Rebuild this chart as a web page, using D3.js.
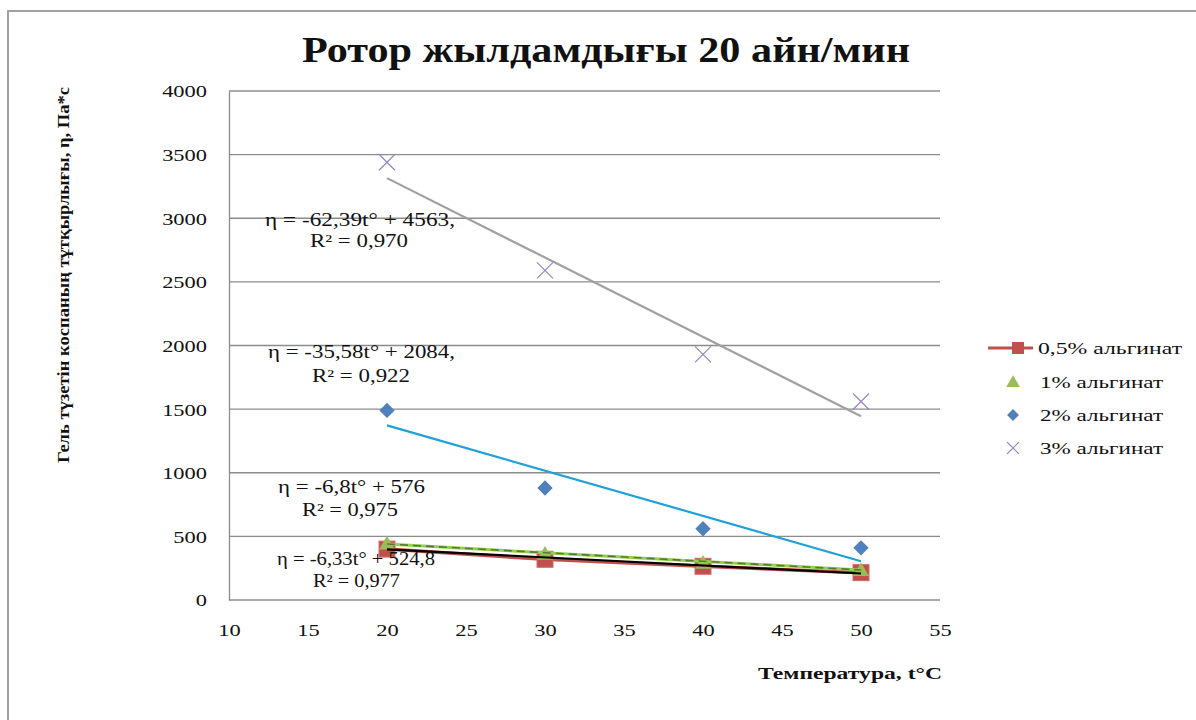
<!DOCTYPE html>
<html>
<head>
<meta charset="utf-8">
<script src="https://cdn.jsdelivr.net/npm/d3@7"></script>
<style>
  html, body { margin: 0; padding: 0; background: #fff; }
  svg { display: block; }
  text { font-family: "Liberation Serif", "Times New Roman", serif; fill: #111; }
</style>
</head>
<body>
<svg id="chart" width="1196" height="720"></svg>
<script>
// Temperature points, °C
const temps = [20, 30, 40, 50];

// Viscosity readings, Pa*s, per alginate concentration
const series05 = [400, 320, 265, 215];
const series1 = [440, 360, 290, 232];
const series2 = [1490, 880, 560, 410];
const series3 = [3440, 2590, 1930, 1560];

const seriesNames = ["0,5% альгинат", "1% альгинат", "2% альгинат", "3% альгинат"];

// Linear trend coefficients (slope, intercept) and R²
const slopes = [-6.33, -6.8, -35.58, -62.39];
const intercepts = [524.8, 576, 2084, 4563];
const rSquared = ["0,977", "0,975", "0,922", "0,970"];

const xTicks = [10, 15, 20, 25, 30, 35, 40, 45, 50, 55];
const yTicks = [0, 500, 1000, 1500, 2000, 2500, 3000, 3500, 4000];

const titleText = "Ротор жылдамдығы 20 айн/мин";
const yTitle = "Гель түзетін коспаның тұтқырлығы, η, Па*с";
const xTitle = "Температура, t°C";

const svg = d3.select("#chart");

// outer frame (open on the right/bottom)
svg.append("path")
  .attr("d", "M8,720 L8,11 L1196,11")
  .attr("fill", "none").attr("stroke", "#a0a0a0").attr("stroke-width", 2);

const x = d3.scaleLinear().domain([10, 55]).range([229, 940]);
const y = d3.scaleLinear().domain([0, 4000]).range([600, 91]);

// horizontal gridlines
svg.append("g").selectAll("line").data(yTicks).join("line")
  .attr("x1", x(10)).attr("x2", x(55))
  .attr("y1", d => y(d)).attr("y2", d => y(d))
  .attr("stroke", "#8c8c8c").attr("stroke-width", 1.3);

const SX = 1.32;

// y axis
const yAxis = svg.append("g").attr("transform", `translate(${x(10)},0)`)
  .call(d3.axisLeft(y).tickValues(yTicks).tickFormat(d3.format("d")).tickSize(0));
yAxis.attr("font-family", "Liberation Serif, serif").attr("font-size", 17);
yAxis.select(".domain").attr("stroke", "#8c8c8c").attr("stroke-width", 1.3);
yAxis.selectAll("text")
  .attr("fill", "#111")
  .attr("dy", "0.35em")
  .attr("x", -22 / SX)
  .attr("transform", `scale(${SX},1)`);

// x axis
const xAxis = svg.append("g").attr("transform", `translate(0,${y(0)})`)
  .call(d3.axisBottom(x).tickValues(xTicks).tickFormat(d3.format("d")).tickSize(0).tickPadding(24));
xAxis.attr("font-family", "Liberation Serif, serif").attr("font-size", 17);
xAxis.select(".domain").remove();
xAxis.selectAll("text")
  .attr("fill", "#111")
  .attr("transform", `scale(${SX},1)`);

// helper for horizontally fitted text
function fitText(g, str, px, py, width, size, opts = {}) {
  return g.append("text")
    .attr("x", px).attr("y", py)
    .attr("font-size", size)
    .attr("font-weight", opts.bold ? "bold" : "normal")
    .attr("text-anchor", opts.anchor || "start")
    .attr("textLength", width)
    .attr("lengthAdjust", "spacingAndGlyphs")
    .attr("transform", opts.transform || null)
    .text(str);
}

// title
fitText(svg, titleText, 302, 62, 608, 36, { bold: true });

// axis titles
fitText(svg, yTitle, -463, 69, 376, 17, { bold: true, transform: "rotate(-90)" });
fitText(svg, xTitle, 758, 679, 184, 17, { bold: true });

// trend lines
const trendLine = (i) => d3.line()
  .x(d => x(d))
  .y(d => y(slopes[i] * d + intercepts[i]))([20, 50]);

const plot = svg.append("g");

// 3% trend
plot.append("path").attr("d", trendLine(3))
  .attr("stroke", "#a0a0a0").attr("stroke-width", 2.2).attr("fill", "none");
// 2% trend
plot.append("path").attr("d", trendLine(2))
  .attr("stroke", "#1ea1d8").attr("stroke-width", 2.2).attr("fill", "none");

// 0.5% connecting line
plot.append("path")
  .attr("d", d3.line().x((d, i) => x(temps[i])).y(d => y(d))(series05))
  .attr("stroke", "#c0504d").attr("stroke-width", 3.5).attr("fill", "none");

// 0.5% square markers
plot.append("g").selectAll("rect").data(series05).join("rect")
  .attr("x", (d, i) => x(temps[i]) - 8).attr("y", d => y(d) - 8)
  .attr("width", 16).attr("height", 16)
  .attr("fill", "#c0504d").attr("stroke", "#d46b68").attr("stroke-width", 1);

// 1% triangle markers
const tri = d3.symbol().type(d3.symbolTriangle).size(110);
plot.append("g").selectAll("path").data(series1).join("path")
  .attr("d", tri)
  .attr("transform", (d, i) => `translate(${x(temps[i])},${y(d) + 1})`)
  .attr("fill", "#9bbb59");

// 1% trend (light green with dark dashes)
plot.append("path").attr("d", trendLine(1))
  .attr("stroke", "#92d050").attr("stroke-width", 3).attr("fill", "none");
plot.append("path").attr("d", trendLine(1))
  .attr("stroke", "#4f6228").attr("stroke-width", 1.6).attr("stroke-dasharray", "8,5")
  .attr("fill", "none").attr("opacity", 0.8);

// 0.5% trend (black)
plot.append("path").attr("d", trendLine(0))
  .attr("stroke", "#000").attr("stroke-width", 2.2).attr("fill", "none");

// 2% diamond markers
const diamond = d3.symbol().type(d3.symbolDiamond2).size(150);
plot.append("g").selectAll("path").data(series2).join("path")
  .attr("d", diamond)
  .attr("transform", (d, i) => `translate(${x(temps[i])},${y(d)})`)
  .attr("fill", "#4f81bd");

// 3% cross markers
plot.append("g").selectAll("path").data(series3).join("path")
  .attr("d", "M-8,-8 L8,8 M-8,8 L8,-8")
  .attr("transform", (d, i) => `translate(${x(temps[i])},${y(d)})`)
  .attr("stroke", "#9a84c0").attr("stroke-width", 1.2).attr("fill", "none");

// trend equations
const fmt = v => String(v).replace(".", ",");
const eqLabels = [
  { i: 3, eq: [265, 226, 190], r: [310, 247, 98], sep: "," },
  { i: 2, eq: [268, 358, 187], r: [312, 382, 98], sep: "," },
  { i: 1, eq: [278, 493, 147], r: [302, 516, 96], sep: "" },
  { i: 0, eq: [277, 565, 158], r: [313, 587, 87], sep: "" }
];
const ann = svg.append("g");
eqLabels.forEach(l => {
  const txt = `η = ${fmt(slopes[l.i])}t° + ${fmt(intercepts[l.i])}${l.sep}`;
  fitText(ann, txt, l.eq[0], l.eq[1], l.eq[2], 18);
  fitText(ann, `R² = ${rSquared[l.i]}`, l.r[0], l.r[1], l.r[2], 18);
});

// legend
const legend = svg.append("g");
const legY = [348, 382, 415, 448];
const legW = [144, 123, 123, 123];
legend.append("line").attr("x1", 988).attr("x2", 1033).attr("y1", legY[0]).attr("y2", legY[0])
  .attr("stroke", "#c0504d").attr("stroke-width", 3);
legend.append("rect").attr("x", 1012).attr("y", legY[0] - 6).attr("width", 12).attr("height", 12)
  .attr("fill", "#c0504d");
legend.append("path").attr("d", d3.symbol().type(d3.symbolTriangle).size(80))
  .attr("transform", `translate(1013,${legY[1] + 1})`).attr("fill", "#9bbb59");
legend.append("path").attr("d", d3.symbol().type(d3.symbolDiamond2).size(90))
  .attr("transform", `translate(1013,${legY[2]})`).attr("fill", "#4f81bd");
legend.append("path").attr("d", "M-6,-6 L6,6 M-6,6 L6,-6")
  .attr("transform", `translate(1013,${legY[3]})`).attr("stroke", "#9a84c0").attr("stroke-width", 1.1);
seriesNames.forEach((n, i) => {
  fitText(legend, n, i === 0 ? 1038 : 1040, legY[i] + 6, legW[i], 17);
});
</script>
</body>
</html>
